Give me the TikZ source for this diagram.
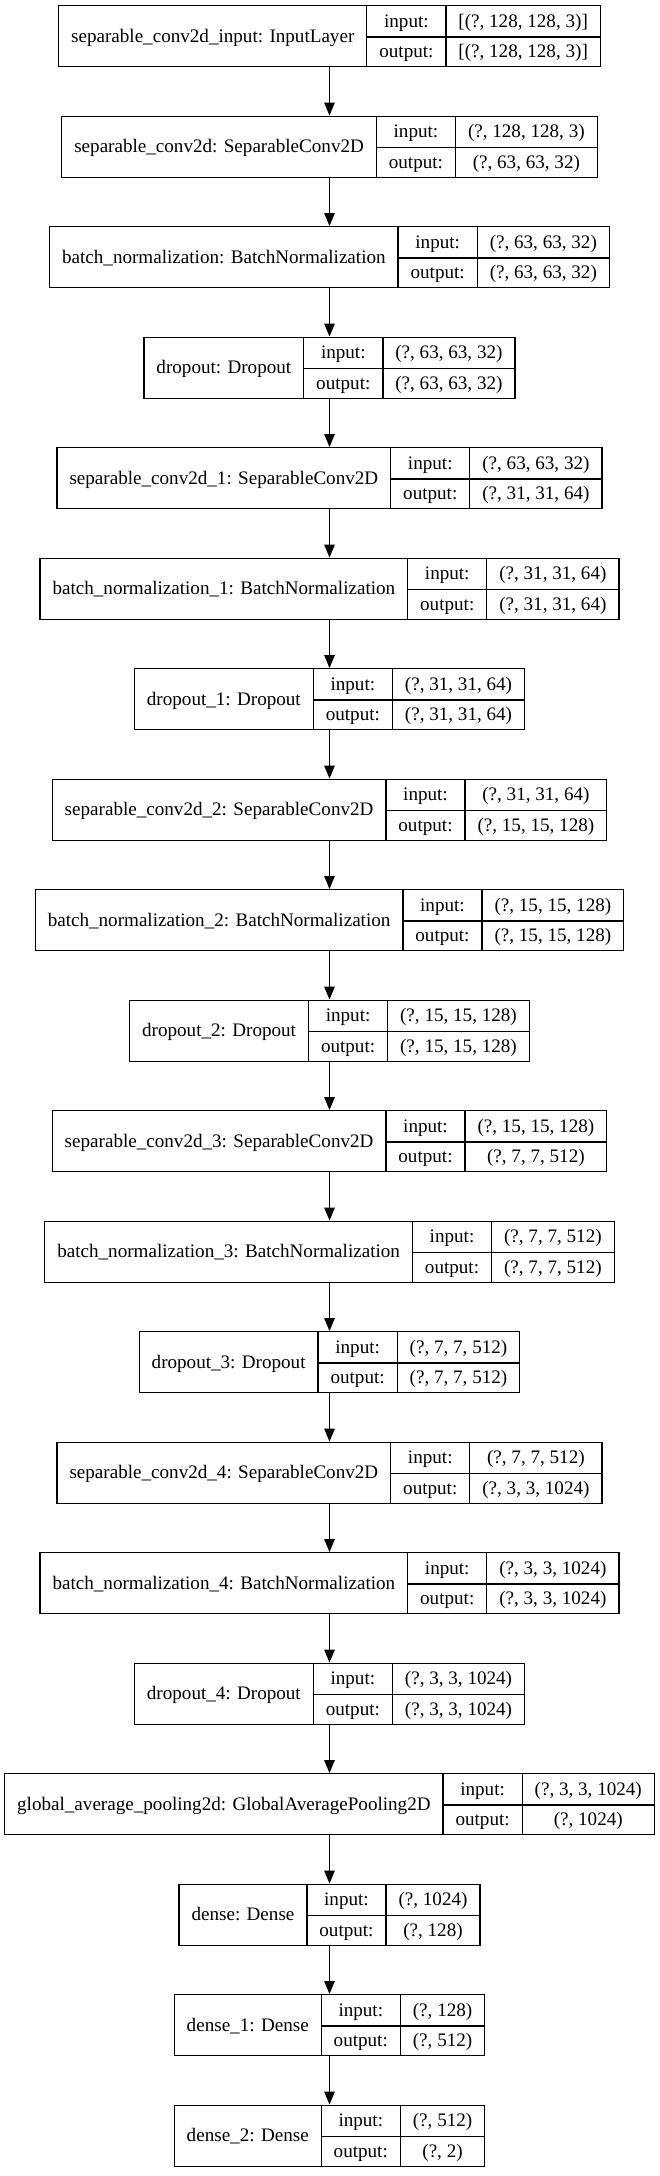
\documentclass[tikz,border=0pt]{standalone}
\usepackage{fontspec}
\setmainfont{Liberation Serif}
\usetikzlibrary{arrows.meta}
\setlength{\tabcolsep}{12.5pt}
\setlength{\arrayrulewidth}{1.3pt}
\newcommand{\rowstrut}{\rule[-9.2pt]{0pt}{30.5pt}}
\newcommand{\io}[3]{\begin{tabular}{c|c|c}
  \smash{\raisebox{-15.25pt}{#1}} & input: & #2\rowstrut \\ \cline{2-3}
  & output: & #3\rowstrut
\end{tabular}}
\tikzstyle{layer}=[draw, line width=1.3pt, inner sep=0pt, font=\fontsize{19.1}{22}\selectfont]
\tikzstyle{edge}=[-{Triangle[length=13pt, width=10.5pt]}, line width=1.3pt]

\begin{document}
\begin{tikzpicture}[x=1pt, y=1pt]
	\useasboundingbox (0,0) rectangle (659,-2176);
	% nodes
	 \node [layer] (in) at (329.5,-36.2) {\io{separable\_conv2d\_input: InputLayer}{[(?, 128, 128, 3)]}{[(?, 128, 128, 3)]}};
	 \node [layer] (sc) at (329.5,-146.7) {\io{separable\_conv2d: SeparableConv2D}{(?, 128, 128, 3)}{(?, 63, 63, 32)}};
	 \node [layer] (bn) at (329.5,-257.2) {\io{batch\_normalization: BatchNormalization}{(?, 63, 63, 32)}{(?, 63, 63, 32)}};
	 \node [layer] (do) at (329.5,-367.7) {\io{dropout: Dropout}{(?, 63, 63, 32)}{(?, 63, 63, 32)}};
	 \node [layer] (sc1) at (329.5,-478.2) {\io{separable\_conv2d\_1: SeparableConv2D}{(?, 63, 63, 32)}{(?, 31, 31, 64)}};
	 \node [layer] (bn1) at (329.5,-588.7) {\io{batch\_normalization\_1: BatchNormalization}{(?, 31, 31, 64)}{(?, 31, 31, 64)}};
	 \node [layer] (do1) at (329.5,-699.2) {\io{dropout\_1: Dropout}{(?, 31, 31, 64)}{(?, 31, 31, 64)}};
	 \node [layer] (sc2) at (329.5,-809.7) {\io{separable\_conv2d\_2: SeparableConv2D}{(?, 31, 31, 64)}{(?, 15, 15, 128)}};
	 \node [layer] (bn2) at (329.5,-920.2) {\io{batch\_normalization\_2: BatchNormalization}{(?, 15, 15, 128)}{(?, 15, 15, 128)}};
	 \node [layer] (do2) at (329.5,-1030.7) {\io{dropout\_2: Dropout}{(?, 15, 15, 128)}{(?, 15, 15, 128)}};
	 \node [layer] (sc3) at (329.5,-1141.2) {\io{separable\_conv2d\_3: SeparableConv2D}{(?, 15, 15, 128)}{(?, 7, 7, 512)}};
	 \node [layer] (bn3) at (329.5,-1251.7) {\io{batch\_normalization\_3: BatchNormalization}{(?, 7, 7, 512)}{(?, 7, 7, 512)}};
	 \node [layer] (do3) at (329.5,-1362.2) {\io{dropout\_3: Dropout}{(?, 7, 7, 512)}{(?, 7, 7, 512)}};
	 \node [layer] (sc4) at (329.5,-1472.7) {\io{separable\_conv2d\_4: SeparableConv2D}{(?, 7, 7, 512)}{(?, 3, 3, 1024)}};
	 \node [layer] (bn4) at (329.5,-1583.2) {\io{batch\_normalization\_4: BatchNormalization}{(?, 3, 3, 1024)}{(?, 3, 3, 1024)}};
	 \node [layer] (do4) at (329.5,-1693.7) {\io{dropout\_4: Dropout}{(?, 3, 3, 1024)}{(?, 3, 3, 1024)}};
	 \node [layer] (gap) at (329.5,-1804.2) {\io{global\_average\_pooling2d: GlobalAveragePooling2D}{(?, 3, 3, 1024)}{(?, 1024)}};
	 \node [layer] (d) at (329.5,-1914.7) {\io{dense: Dense}{(?, 1024)}{(?, 128)}};
	 \node [layer] (d1) at (329.5,-2025.2) {\io{dense\_1: Dense}{(?, 128)}{(?, 512)}};
	 \node [layer] (d2) at (329.5,-2135.7) {\io{dense\_2: Dense}{(?, 512)}{(?, 2)}};

	 % arrows
	 \draw [edge] (in) -- (sc);
	 \draw [edge] (sc) -- (bn);
	 \draw [edge] (bn) -- (do);
	 \draw [edge] (do) -- (sc1);
	 \draw [edge] (sc1) -- (bn1);
	 \draw [edge] (bn1) -- (do1);
	 \draw [edge] (do1) -- (sc2);
	 \draw [edge] (sc2) -- (bn2);
	 \draw [edge] (bn2) -- (do2);
	 \draw [edge] (do2) -- (sc3);
	 \draw [edge] (sc3) -- (bn3);
	 \draw [edge] (bn3) -- (do3);
	 \draw [edge] (do3) -- (sc4);
	 \draw [edge] (sc4) -- (bn4);
	 \draw [edge] (bn4) -- (do4);
	 \draw [edge] (do4) -- (gap);
	 \draw [edge] (gap) -- (d);
	 \draw [edge] (d) -- (d1);
	 \draw [edge] (d1) -- (d2);
\end{tikzpicture}
\end{document}
